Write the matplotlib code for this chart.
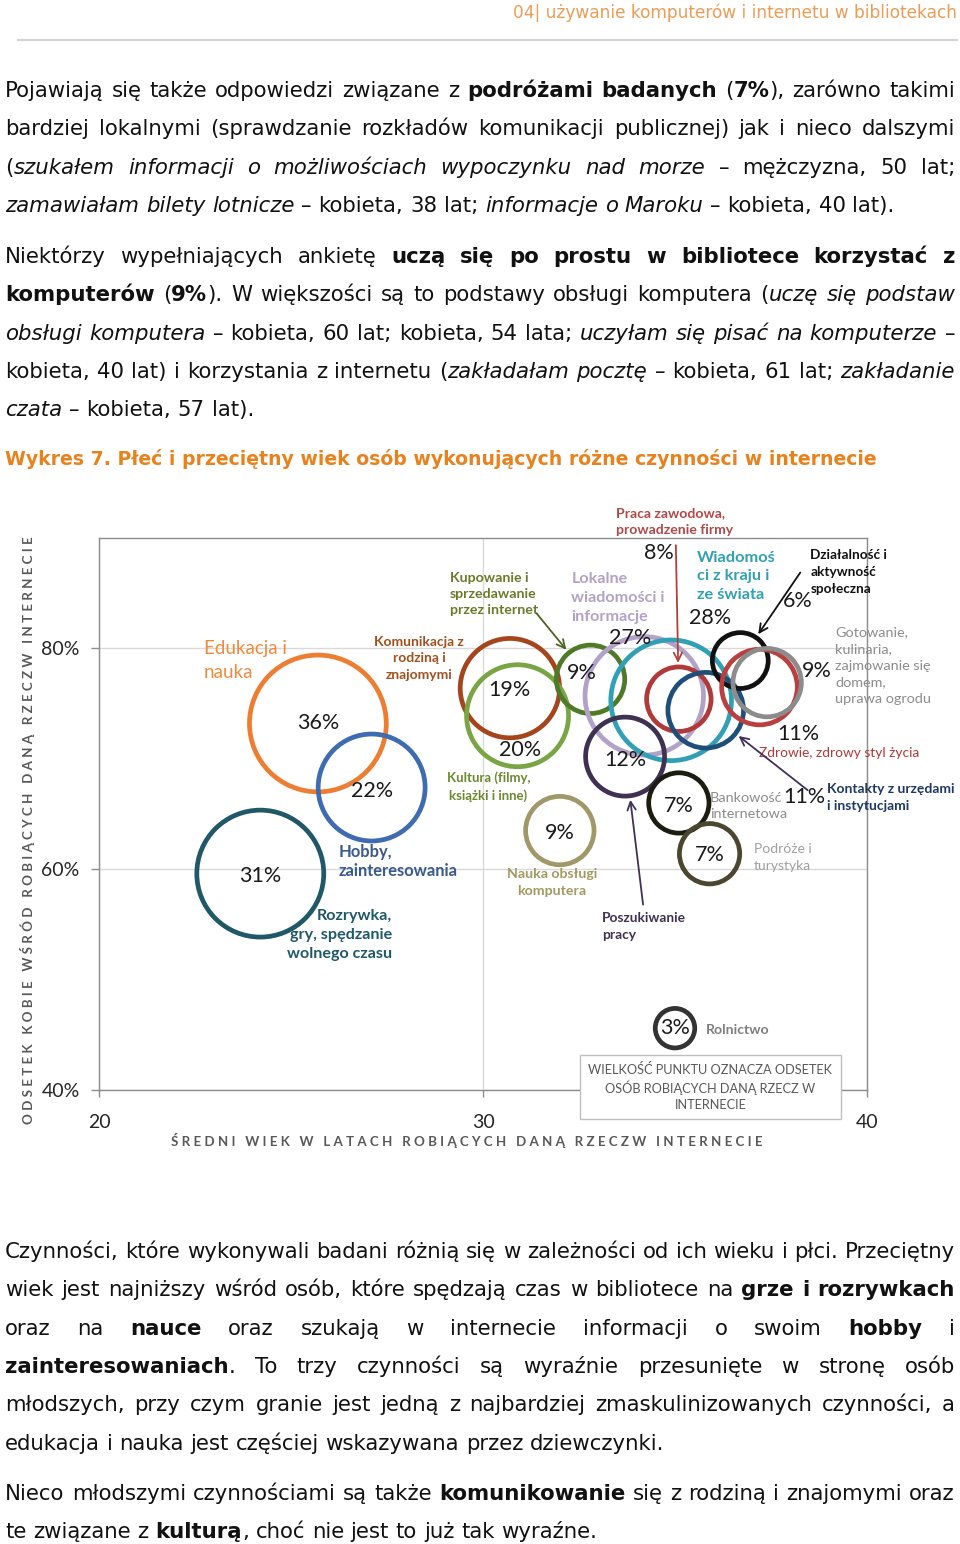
import matplotlib
matplotlib.use('Agg')
import matplotlib.pyplot as plt
import numpy as np
from matplotlib.patches import Rectangle
from matplotlib.lines import Line2D

W, H = 960, 1544

# ---------------- data ----------------
categories = ['Edukacja i nauka', 'Hobby, zainteresowania',
              'Rozrywka, gry, spędzanie wolnego czasu',
              'Komunikacja z rodziną i znajomymi', 'Kultura (filmy, książki i inne)',
              'Kupowanie i sprzedawanie przez internet',
              'Lokalne wiadomości i informacje', 'Wiadomości z kraju i ze świata',
              'Praca zawodowa, prowadzenie firmy', 'Kontakty z urzędami i instytucjami',
              'Działalność i aktywność społeczna', 'Zdrowie, zdrowy styl życia',
              'Gotowanie, kulinaria, zajmowanie się domem, uprawa ogrodu',
              'Poszukiwanie pracy', 'Bankowość internetowa', 'Podróże i turystyka',
              'Nauka obsługi komputera', 'Rolnictwo']
mean_age = [25.7, 27.1, 24.2, 30.7, 30.9, 32.8, 34.2, 34.9, 35.1, 35.8,
            36.7, 37.2, 37.4, 33.7, 35.1, 35.9, 32.0, 35.0]
female_share = [73.2, 67.4, 59.6, 76.4, 73.9, 77.2, 75.7, 75.3, 75.4, 74.4,
                78.9, 76.5, 76.9, 70.2, 66.0, 61.4, 63.5, 45.6]
share_online = [36, 22, 31, 19, 20, 9, 27, 28, 8, 11, 6, 11, 9, 12, 7, 7, 9, 3]

x_ticks = [20, 30, 40]
y_ticks = [40, 60, 80]
y_ticklabels = ['40%', '60%', '80%']

# ---------------- styles (per category) ----------------
edge_colors = ['#ed7d31', '#3f6cb0', '#215868', '#a5451c', '#79a544', '#4f7a28',
               '#b3a2c7', '#31a0b4', '#b03a3a', '#1f4e79', '#111111', '#b84040',
               '#8c8c8c', '#3f3151', '#1c1c10', '#4a4630', '#a09868', '#333333']
# label: text, color, ha, dx, dy (pixels from bubble centre), fontsize, weight, linespacing
name_labels = [
    ('Edukacja i\nnauka', '#ee8a3e', 'left', -114, 63, 13.5, 'normal', 1.44),
    ('Hobby,\nzainteresowania', '#3a5a8c', 'left', -33, -74, 11.9, 'bold', 1.3),
    ('Rozrywka,\ngry, spędzanie\nwolnego czasu', '#215868', 'right', 132, -61, 11.6, 'bold', 1.45),
    ('Komunikacja z\nrodziną i\nznajomymi', '#a0501e', 'center', -91, 30, 10, 'bold', 1.45),
    ('Kultura (filmy,\nksiążki i inne)', '#6a8a30', 'center', -29, -71, 9.5, 'bold', 1.5),
    ('Kupowanie i\nsprzedawanie\nprzez internet', '#6b7a2a', 'left', -141, 85, 10.2, 'bold', 1.4),
    ('Lokalne\nwiadomości i\ninformacje', '#b3a2c7', 'left', -73, 98, 11.6, 'bold', 1.45),
    ('Wiadomoś\nci z kraju i\nze świata', '#31a0b4', 'left', 26, 124, 11.8, 'bold', 1.42),
    ('Praca zawodowa,\nprowadzenie firmy', '#b04848', 'left', -63, 178, 10.1, 'bold', 1.5),
    ('Kontakty z urzędami\ni instytucjami', '#1f3864', 'left', 121, -87, 10, 'bold', 1.5),
    ('Działalność i\naktywność\nspołeczna', '#111111', 'left', 70, 89, 9.8, 'bold', 1.5),
    ('Zdrowie, zdrowy styl życia', '#b03838', 'left', 0, -66, 9.9, 'normal', 1.4),
    ('Gotowanie,\nkulinaria,\nzajmowanie się\ndomem,\nuprawa ogrodu', '#8c8c8c', 'left', 68, 17, 10.4, 'normal', 1.45),
    ('Poszukiwanie\npracy', '#3f3151', 'left', -23, -170, 9.9, 'bold', 1.5),
    ('Bankowość\ninternetowa', '#8c8c8c', 'left', 31, -3, 10.4, 'normal', 1.45),
    ('Podróże i\nturystyka', '#a0a0a0', 'left', 44, -4, 10, 'normal', 1.45),
    ('Nauka obsługi\nkomputera', '#a09a60', 'center', -8, -52, 10.2, 'bold', 1.5),
    ('Rolnictwo', '#7f7f7f', 'left', 31, -2, 10.1, 'bold', 1.4),
]
# value label offsets (pixels from bubble centre)
pct_offsets = [(0, 0), (0, -3), (0, -2), (0, -2), (3, -34), (-9, 6), (-14, 58), (39, 82),
               (-20, 146), (99, -87), (57, 60), (39, -47), (50, 12), (0, -3),
               (0, -3), (0, -1), (0, -2), (0, 0)]
# arrows: category index -> (tail dx, tail dy in px, colour)
arrows = {8: (-3, 154, '#b04040'), 5: (-54, 66, '#4f6228'), 10: (60, 88, '#111111'),
          9: (102, -80, '#40315a'), 13: (18, -148, '#40315a')}

CHART_FONT = ['Lato', 'DejaVu Sans']
BODY_FONT = ['DejaVu Sans']

fig = plt.figure(figsize=(W / 100, H / 100), dpi=100)
fig.patch.set_facecolor('white')
renderer = fig.canvas.get_renderer()

# ---------------- chart ----------------
ax = fig.add_axes([99 / W, 1 - 1090 / H, (867 - 99) / W, (1090 - 538) / H])
ax.set_xlim(20, 40)
ax.set_ylim(40, 90)
for sp in ax.spines.values():
    sp.set_color('#8c8c8c')
    sp.set_linewidth(1.0)
ax.set_xticks(x_ticks)
ax.set_xticklabels([str(v) for v in x_ticks])
ax.set_yticks(y_ticks)
ax.set_yticklabels(y_ticklabels)
ax.tick_params(axis='y', length=6, width=1, color='#8c8c8c', pad=8, labelsize=14,
               labelcolor='#262626')
ax.tick_params(axis='x', length=5, width=1, color='#8c8c8c', pad=12, labelsize=14,
               labelcolor='#262626')
for lab in ax.get_xticklabels() + ax.get_yticklabels():
    lab.set_family(CHART_FONT)
ax.grid(True, color='#d9d9d9', lw=1)
ax.set_axisbelow(True)

R_PX = 11.4  # bubble radius in pixels per sqrt(percent)
sizes = [(2 * R_PX * np.sqrt(v) * 72 / 100) ** 2 for v in share_online]
ax.scatter(mean_age, female_share, s=sizes, facecolors='none', edgecolors=edge_colors,
           linewidths=3.4, zorder=3)

for i, (xa, yf, v) in enumerate(zip(mean_age, female_share, share_online)):
    dx, dy = pct_offsets[i]
    ax.annotate(f'{v}%', xy=(xa, yf), xytext=(dx, dy), textcoords='offset pixels',
                ha='center', va='center', fontsize=15.5, color='#1a1a1a',
                family=CHART_FONT, zorder=5)
    txt, col, ha, lx, ly, fs, wt, lsp = name_labels[i]
    ax.annotate(txt, xy=(xa, yf), xytext=(lx, ly), textcoords='offset pixels',
                ha=ha, va='center', fontsize=fs, color=col, weight=wt,
                family=CHART_FONT, linespacing=lsp, zorder=5, annotation_clip=False)

for i, (tx, ty, col) in arrows.items():
    r_pt = (R_PX * np.sqrt(share_online[i]) + 4) * 72 / 100
    ax.annotate('', xy=(mean_age[i], female_share[i]), xytext=(tx, ty),
                textcoords='offset pixels', annotation_clip=False,
                arrowprops=dict(arrowstyle='->,head_length=0.6,head_width=0.3',
                                color=col, lw=1.3, shrinkA=0, shrinkB=r_pt), zorder=6)


def P(x, y):
    return x / W, 1 - y / H


def fit_text(x, y, s, target, base, vertical=False, **kw):
    t = fig.text(*P(x, y), s, fontsize=base, **kw)
    bb = t.get_window_extent(renderer)
    size = bb.height if vertical else bb.width
    t.set_fontsize(base * target / size)
    return t


# axis titles (letter spaced)
def spaced(s):
    return '   '.join(' '.join(list(w)) for w in s.split(' '))


fit_text(28, 830, spaced('ODSETEK KOBIE WŚRÓD ROBIĄCYCH DANĄ RZECZW INTERNECIE'), 590, 8,
         vertical=True, rotation=90, ha='center', va='center', color='#595959',
         weight='bold', family=CHART_FONT)
fit_text(467, 1141, spaced('ŚREDNI WIEK W LATACH ROBIĄCYCH DANĄ RZECZW INTERNECIE'), 595, 8,
         ha='center', va='center', color='#595959', weight='bold', family=CHART_FONT)

# legend note box
fig.add_artist(Rectangle(P(580, 1119), 261 / W, 64 / H, transform=fig.transFigure,
                         facecolor='white', edgecolor='#bfbfbf', lw=1, zorder=10))
fig.text(*P(710.5, 1087), 'WIELKOŚĆ PUNKTU OZNACZA ODSETEK\nOSÓB ROBIĄCYCH DANĄ RZECZ W\nINTERNECIE',
         ha='center', va='center', fontsize=9.2, color='#595959', family=CHART_FONT,
         linespacing=1.35, zorder=11)

# ---------------- page text ----------------
fit_text(957, 13, '04| używanie komputerów i internetu w bibliotekach', 447, 11,
         ha='right', va='center', color='#eb9c55', family=BODY_FONT)
fig.add_artist(Line2D([18 / W, 957 / W], [1 - 40 / H, 1 - 40 / H], transform=fig.transFigure,
                      color='#d4d4d4', lw=1.5))
fit_text(5, 459, 'Wykres 7. Płeć i przeciętny wiek osób wykonujących różne czynności w internecie',
         871, 12, ha='left', va='center', color='#e8821e', weight='bold', family=BODY_FONT)


def parse_words(line):
    words, cur, buf = [], [], ''
    bold = ital = False
    for ch in line + ' ':
        if ch in '*~ ':
            if buf:
                cur.append((buf, bold, ital))
                buf = ''
            if ch == '*':
                bold = not bold
            elif ch == '~':
                ital = not ital
            else:
                if cur:
                    words.append(cur)
                cur = []
        else:
            buf += ch
    return words


def frag_props(b, i, fs):
    return dict(fontsize=fs, weight='bold' if b else 'normal',
                style='italic' if i else 'normal', family=BODY_FONT)


def frag_width(s, b, i, fs):
    t = fig.text(0, 0, s, **frag_props(b, i, fs))
    w = t.get_window_extent(renderer).width
    t.remove()
    return w


def line_natural(line, fs):
    words = parse_words(line)
    sp = frag_width('a a', False, False, fs) - frag_width('aa', False, False, fs)
    return sum(sum(frag_width(*f, fs) for f in w) for w in words) + sp * (len(words) - 1)


def draw_line(line, yb, justify, fs, x0=5, x1=955, color='#111111'):
    words = parse_words(line)
    sp = frag_width('a a', False, False, fs) - frag_width('aa', False, False, fs)
    widths = [[frag_width(*f, fs) for f in w] for w in words]
    tot = sum(sum(ws) for ws in widths)
    gap = (x1 - x0 - tot) / (len(words) - 1) if (justify and len(words) > 1) else sp
    x = x0
    for w, ws in zip(words, widths):
        xx = x
        for (s, b, i), fw in zip(w, ws):
            fig.text(*P(xx, yb), s, ha='left', va='baseline', color=color, **frag_props(b, i, fs))
            xx += fw
        x += sum(ws) + gap


fit_line = ('~zamawiałam bilety lotnicze~ – kobieta, 38 lat; ~informacje o Maroku~ – '
            'kobieta, 40 lat).')
FS = 14 * 895 / line_natural(fit_line, 14)

paragraphs = [
    (89, ['Pojawiają się także odpowiedzi związane z *podróżami badanych* (*7%*), zarówno takimi',
          'bardziej lokalnymi (sprawdzanie rozkładów komunikacji publicznej) jak i nieco dalszymi',
          '(~szukałem informacji o możliwościach wypoczynku nad morze~ – mężczyzna, 50 lat;',
          fit_line]),
    (255, ['Niektórzy wypełniających ankietę *uczą się po prostu w bibliotece korzystać z*',
           '*komputerów* (*9%*). W większości są to podstawy obsługi komputera (~uczę się podstaw~',
           '~obsługi komputera~ – kobieta, 60 lat; kobieta, 54 lata; ~uczyłam się pisać na komputerze~ –',
           'kobieta, 40 lat) i korzystania z internetu (~zakładałam pocztę~ – kobieta, 61 lat; ~zakładanie~',
           '~czata~ – kobieta, 57 lat).']),
    (1250, ['Czynności, które wykonywali badani różnią się w zależności od ich wieku i płci. Przeciętny',
            'wiek jest najniższy wśród osób, które spędzają czas w bibliotece na *grze i rozrywkach*',
            'oraz na *nauce* oraz szukają w internecie informacji o swoim *hobby* i',
            '*zainteresowaniach*. To trzy czynności są wyraźnie przesunięte w stronę osób',
            'młodszych, przy czym granie jest jedną z najbardziej zmaskulinizowanych czynności, a',
            'edukacja i nauka jest częściej wskazywana przez dziewczynki.']),
    (1492, ['Nieco młodszymi czynnościami są także *komunikowanie* się z rodziną i znajomymi oraz',
            'te związane z *kulturą*, choć nie jest to już tak wyraźne.']),
]
LINE_H = 38.3
for y0, lines in paragraphs:
    for k, ln in enumerate(lines):
        draw_line(ln, y0 + 8 + k * LINE_H, justify=(k < len(lines) - 1), fs=FS)

fig.savefig('out.png', dpi=100, facecolor='white')
